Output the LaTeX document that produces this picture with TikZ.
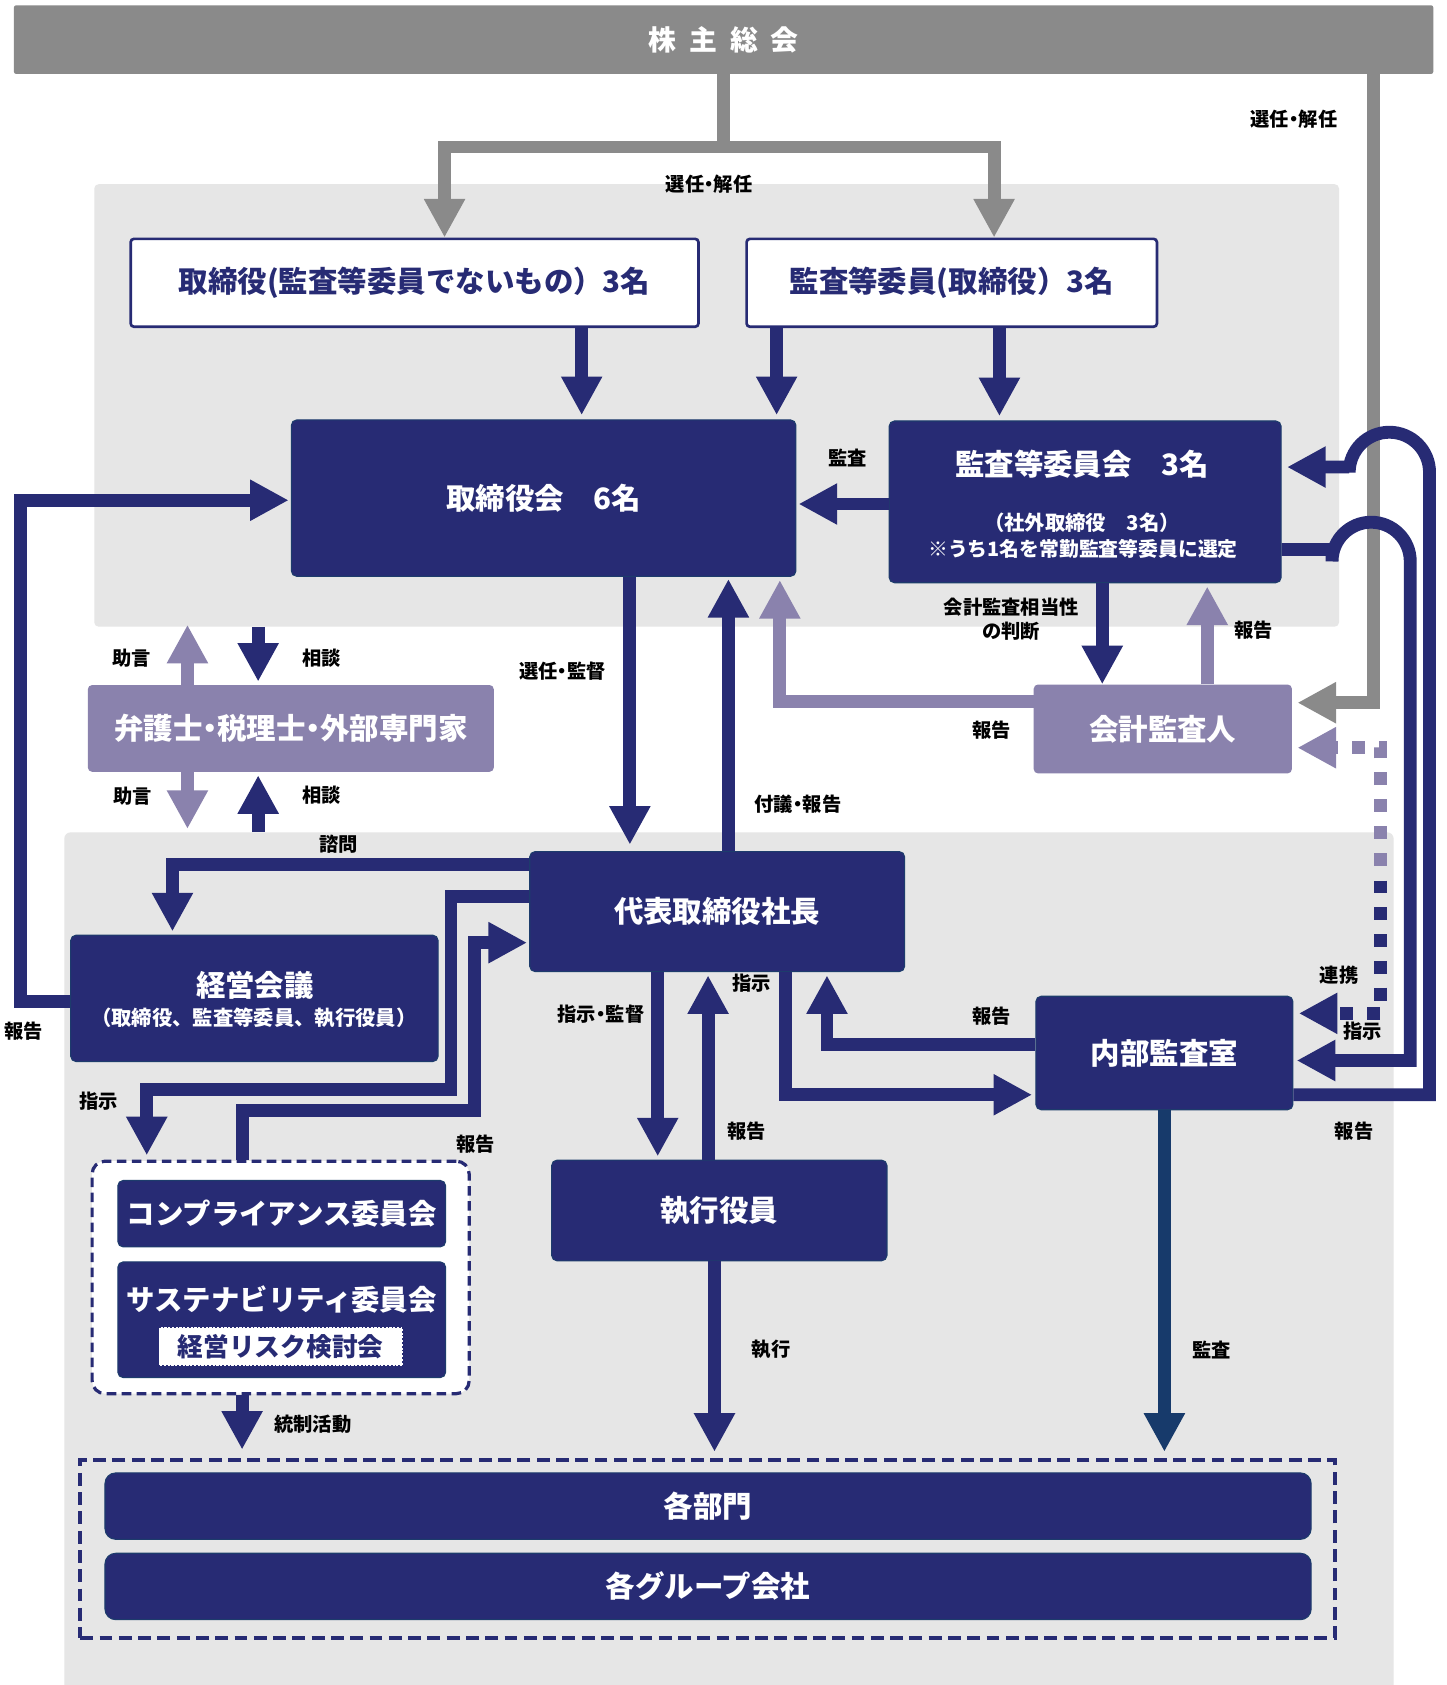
\documentclass[tikz,border=0pt]{standalone}
\usepackage{fontspec}
\setmainfont{Noto Sans CJK JP}
\usetikzlibrary{arrows.meta,calc}
\definecolor{navy}{HTML}{272B74}
\definecolor{lav}{HTML}{8A82AD}
\definecolor{gbar}{HTML}{8A8A8A}
\definecolor{bgg}{HTML}{E6E6E6}
\definecolor{deep}{HTML}{173A6B}
\definecolor{edgec}{HTML}{1D3C6C}
\newcommand\ftitle{\fontsize{26}{28}\selectfont\bfseries}
\newcommand\fbig{\fontsize{27.5}{30}\selectfont\bfseries}
\newcommand\fmid{\fontsize{19}{21}\selectfont\bfseries}
\newcommand\fsmall{\fontsize{18.5}{20}\selectfont\bfseries}
\newcommand\flbl{\fontsize{18}{22}\selectfont\bfseries}
\newcommand\fcomm{\fontsize{26.5}{28}\selectfont\bfseries}
\newcommand\frisk{\fontsize{24}{26}\selectfont\bfseries}
\newcommand\nkg{\kern-0.25em・\kern-0.25em}
\begin{document}
\begin{tikzpicture}[x=1pt,y=-1pt,
  navybox/.style={fill=navy, draw=edgec, line width=1pt, rounded corners=5pt, text=white, inner sep=0pt, font=\fbig},
  whitebox/.style={fill=white, draw=navy, line width=2.5pt, rounded corners=3pt, text=navy, inner sep=0pt, font=\fbig},
  lavbox/.style={fill=lav, draw=none, rounded corners=4pt, text=white, inner sep=0pt, font=\fbig},
  lbl/.style={font=\flbl, text=black, inner sep=0pt, align=center},
  wtxt/.style={text=white, inner sep=0pt},
  ln/.style={line width=12pt},
  arw/.style={ln, navy, -{Triangle[width=36pt,length=36pt]}},
  larw/.style={ln, lav, -{Triangle[width=36pt,length=36pt]}},
  garw/.style={ln, gbar, -{Triangle[width=36pt,length=36pt]}},
  darw/.style={ln, deep, -{Triangle[width=36pt,length=36pt]}},
  dotln/.style={ln, dash pattern=on 12pt off 13pt}
]
\fill[white] (0,0) rectangle (1350,1573);
\useasboundingbox (0,0) rectangle (1350,1573);

% backgrounds
\node[fill=bgg, rounded corners=4pt, minimum width=1162pt, minimum height=413pt, inner sep=0pt] (bgtop) at (669,378.5) {};
\node[fill=bgg, rounded corners=6pt, minimum width=1241pt, minimum height=806pt, inner sep=0pt] (bgbot) at (680.5,1180) {};

% title bar
\node[fill=gbar, rounded corners=2pt, minimum width=1325pt, minimum height=64pt, inner sep=0pt, text=white, font=\ftitle] (kabu) at (675.5,37) {株\hspace{12pt}主\hspace{12pt}総\hspace{12pt}会};

% boxes
\node[whitebox, minimum width=530pt, minimum height=82pt] (dir1) at (387,264) {取締役(監査等委員でないもの）3名};
\node[whitebox, minimum width=383pt, minimum height=82pt] (dir2) at (888.5,264) {監査等委員(取締役）3名};
\node[navybox, minimum width=471pt, minimum height=146pt] (bod) at (507.5,465) {取締役会　6名};
\node[navybox, minimum width=366pt, minimum height=151pt] (acb) at (1013,468.5) {};
\node[wtxt, font=\fbig] (acbt) at (1010,433) {監査等委員会　3名};
\node[wtxt, font=\fmid] (acbs1) at (1010,488) {（社外取締役　3名）};
\node[wtxt, font=\fsmall] (acbs2) at (1011,512) {※うち1名を常勤監査等委員に選定};
\node[lavbox, minimum width=379pt, minimum height=81pt] (lawyer) at (271.5,680) {弁護士\nkg 税理士\nkg 外部専門家};
\node[lavbox, minimum width=241pt, minimum height=83pt] (auditor) at (1085.5,680.5) {会計監査人};
\node[navybox, minimum width=350pt, minimum height=112pt] (ceo) at (669.5,851) {代表取締役社長};
\node[navybox, minimum width=343pt, minimum height=118pt] (mgmt) at (237.5,932) {};
\node[wtxt, font=\fbig] (mgt) at (238,920) {経営会議};
\node[wtxt, font=\fmid] (mgs) at (237,950) {（取締役、監査等委員、執行役員）};
\node[navybox, minimum width=240pt, minimum height=106pt] (ia) at (1087,983) {内部監査室};
\node[navybox, minimum width=313pt, minimum height=94pt] (exec) at (671.5,1130) {執行役員};

% compliance group
\node[fill=white, draw=navy, line width=3pt, dash pattern=on 9pt off 5pt, rounded corners=12pt, minimum width=352pt, minimum height=217pt, inner sep=0pt] (compgrp) at (262,1192.5) {};
\node[navybox, minimum width=306pt, minimum height=62pt, font=\fcomm] (comp) at (263,1133) {コンプライアンス委員会};
\node[navybox, minimum width=306pt, minimum height=108pt] (sust) at (263,1232) {};
\node[wtxt, font=\fcomm] (sustt) at (263,1213) {サステナビリティ委員会};
\node[fill=white, draw=navy, dotted, line width=1.5pt, minimum width=228pt, minimum height=36pt, inner sep=0pt, text=navy, font=\frisk] (risk) at (262,1257) {経営リスク検討会};

% departments group
\node[draw=navy, line width=3.5pt, dash pattern=on 12pt off 6pt, minimum width=1171pt, minimum height=166pt, inner sep=0pt] (depgrp) at (660.5,1446) {};
\node[navybox, rounded corners=10pt, minimum width=1126pt, minimum height=62pt] (dept) at (661,1406) {各部門};
\node[navybox, rounded corners=10pt, minimum width=1126pt, minimum height=62pt] (grp) at (661,1481) {各グループ会社};

% gray connectors
\draw[garw] (kabu.south) -- ++(0,68) -| ($(dir1.north)+(28,0)$);
\draw[garw] (kabu.south) -- ++(0,68) -| ($(dir2.north)+(39.5,0)$);
\draw[garw, shorten >=5pt] ($(kabu.south)+(606.5,0)$) |- ($(auditor.east)+(0,-24.5)$);

% top navy arrows
\draw[arw, shorten >=4pt] ($(dir1.south)+(156,0)$) -- ($(bod.north)+(35.5,0)$);
\draw[arw, shorten >=4pt] ($(dir2.south)+(-163.5,0)$) -- ($(bod.north)+(217.5,0)$);
\draw[arw, shorten >=4pt] ($(dir2.south)+(44.5,0)$) -- ($(acb.north)+(-80,0)$);
\draw[arw, shorten >=2pt] ($(acb.west)+(0,2)$) -- ($(bod.east |- acb.west)+(0,2)$);

% lawyer arrows
\draw[larw, shorten >=-2pt] ($(lawyer.north)+(-96.5,0)$) -- ($(bgtop.south -| lawyer.north)+(-96.5,0)$);
\draw[arw, shorten >=3pt] ($(bgtop.south -| lawyer.north)+(-30.5,0)$) -- ($(lawyer.north)+(-30.5,0)$);
\draw[larw, shorten >=3pt] ($(lawyer.south)+(-96.5,0)$) -- ($(bgbot.north -| lawyer.south)+(-96.5,0)$);
\draw[arw, shorten >=3pt] ($(bgbot.north -| lawyer.south)+(-30.5,0)$) -- ($(lawyer.south)+(-30.5,0)$);

% board / ceo
\draw[arw, shorten >=6pt] ($(bod.south)+(80.5,0)$) -- ($(ceo.north)+(-81.5,0)$);
\draw[arw, shorten >=2pt] ($(ceo.north)+(10.5,0)$) -- ($(bod.south)+(172.5,0)$);
\draw[arw] ($(acb.south)+(16,0)$) -- ($(auditor.north)+(-56.5,0)$);
\draw[larw, shorten >=3pt] ($(auditor.north)+(41.5,0)$) -- ($(acb.south)+(114,0)$);
\draw[larw, shorten >=3pt] ($(auditor.west)+(0,-25.5)$) -| ($(bod.south)+(220.5,0)$);

% ceo left side
\draw[arw, shorten >=3pt] ($(ceo.west)+(0,-44)$) -| ($(mgmt.north)+(-76.5,0)$);
\draw[arw, shorten >=4pt] ($(ceo.west)+(0,-14)$) -- ++(-73,0) -- ++(0,180) -| ($(compgrp.north)+(-125,0)$);
\draw[arw, shorten >=2pt] ($(compgrp.north)+(-36,0)$) -- ++(0,-46) -- ++(217,0) |- ($(ceo.west)+(0,29)$);
\draw[arw, shorten >=2pt] ($(mgmt.west)+(0,3)$) -- ++(-46,0) |- ($(bod.west)+(0,2)$);

% ceo bottom
\draw[arw, shorten >=3pt] ($(ceo.south)+(-55.5,0)$) -- ($(exec.north)+(-57.5,0)$);
\draw[arw, shorten >=3pt] ($(exec.north)+(-10.5,0)$) -- ($(ceo.south)+(-8.5,0)$);
\draw[arw, shorten >=3pt] ($(ceo.south)+(63.5,0)$) |- ($(ia.west)+(0,39)$);
\draw[arw, shorten >=3pt] ($(ia.west)+(0,-8)$) -| ($(ceo.south)+(102.5,0)$);

% to departments
\draw[arw, shorten >=6pt] ($(exec.south)+(-4.5,0)$) -- ($(depgrp.north)+(6.5,0)$);
\draw[darw, shorten >=6pt] (ia.south) -- ($(depgrp.north)+(426.5,0)$);
\draw[arw, shorten >=8pt] ($(compgrp.south)+(-36,0)$) -- ($(depgrp.north)+(-434.5,0)$);

% right loops
\draw[arw, shorten >=5pt] ($(ia.east)+(0,39)$) -- ++(127,0) -- ++(0,-581) arc[start angle=0, end angle=180, radius=37.5pt] |- ($(acb.east)+(0,-32.5)$);
\draw[arw, shorten >=3pt] ($(acb.east)+(0,44.5)$) -- ++(47,0) -- ++(0,11) arc[start angle=180, end angle=0, radius=36.5pt] |- ($(ia.east)+(0,7)$);

% dotted link
\coordinate (lka) at (1289,808);
\coordinate (lkb) at (1289,822);
\draw[dotln, lav, -{Triangle[width=36pt,length=36pt]}, shorten >=5pt] (lka) |- ($(auditor.east)+(0,17.5)$);
\draw[dotln, navy, -{Triangle[width=36pt,length=36pt]}, shorten >=5pt] (lkb) |- ($(ia.east)+(0,-37)$);

% labels
\node[lbl] (l1) at (662,172) {選任\nkg 解任};
\node[lbl] (l2) at (1208,111) {選任\nkg 解任};
\node[lbl] (l3) at (791,428) {監査};
\node[lbl] (l4) at (123,614) {助言};
\node[lbl] (l5) at (300,614) {相談};
\node[lbl] (l6) at (124,743) {助言};
\node[lbl] (l7) at (300,742) {相談};
\node[lbl] (l8) at (525,627) {選任\nkg 監督};
\node[lbl] (l9) at (944,578) {会計監査相当性\\の判断};
\node[lbl] (l10) at (1170,588) {報告};
\node[lbl] (l11) at (926,682) {報告};
\node[lbl] (l12) at (745,751) {付議\nkg 報告};
\node[lbl] (l13) at (316,788) {諮問};
\node[lbl] (l14) at (22,963) {報告};
\node[lbl] (l15) at (92,1028) {指示};
\node[lbl] (l16) at (444,1068) {報告};
\node[lbl] (l17) at (561,947) {指示\nkg 監督};
\node[lbl] (l18) at (702,918) {指示};
\node[lbl] (l19) at (926,949) {報告};
\node[lbl] (l20) at (697,1056) {報告};
\node[lbl] (l21) at (1250,910) {連携};
\node[lbl] (l22) at (1272,963) {指示};
\node[lbl] (l23) at (1264,1056) {報告};
\node[lbl] (l24) at (720,1260) {執行};
\node[lbl] (l25) at (1131,1260) {監査};
\node[lbl] (l26) at (292,1330) {統制活動};
\end{tikzpicture}
\end{document}
